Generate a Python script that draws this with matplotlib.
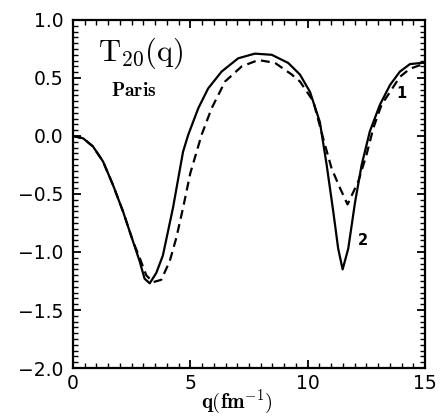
import matplotlib
matplotlib.use('Agg')
import matplotlib.pyplot as plt
from matplotlib.ticker import MultipleLocator

plt.rcParams['mathtext.fontset'] = 'cm'
plt.rcParams['font.family'] = ['DejaVu Sans']

# curve 2 (solid)
q_solid = [0.0, 0.43, 0.85, 1.28, 1.70, 2.13, 2.56, 2.84, 3.05, 3.27, 3.55, 3.83,
           4.26, 4.69, 4.91, 5.34, 5.76, 6.33, 7.04, 7.75, 8.47, 9.17, 9.67, 10.10,
           10.52, 10.81, 11.09, 11.30, 11.49, 11.73, 12.02, 12.30, 12.65, 13.08,
           13.51, 13.93, 14.36, 14.86, 15.0]
t_solid = [0.0, -0.02, -0.09, -0.22, -0.42, -0.65, -0.91, -1.08, -1.23, -1.27, -1.18, -1.03,
           -0.62, -0.135, 0.01, 0.24, 0.41, 0.555, 0.67, 0.71, 0.70, 0.63, 0.53, 0.38,
           0.12, -0.25, -0.65, -0.97, -1.15, -0.97, -0.57, -0.25, 0.04, 0.27,
           0.44, 0.555, 0.62, 0.63, 0.63]

# curve 1 (dashed)
q_dash = [0.0, 0.43, 0.85, 1.28, 1.70, 2.13, 2.56, 2.84, 3.12, 3.41, 3.76, 4.12,
          4.40, 4.69, 5.0, 5.48, 5.91, 6.48, 7.19, 7.90, 8.61, 9.32, 9.67, 10.24,
          10.66, 11.02, 11.38, 11.70, 12.16, 12.51, 12.80, 13.15, 13.51, 13.93,
          14.36, 14.78, 15.0]
t_dash = [0.0, -0.02, -0.09, -0.22, -0.42, -0.65, -0.91, -1.05, -1.20, -1.26, -1.24, -1.08,
          -0.88, -0.62, -0.32, 0.01, 0.24, 0.47, 0.60, 0.655, 0.63, 0.53, 0.47, 0.30,
          -0.02, -0.28, -0.45, -0.59, -0.39, -0.16, 0.07, 0.27, 0.38, 0.51,
          0.58, 0.61, 0.62]

fig = plt.figure(figsize=(4.4, 4.17), dpi=100)
ax = fig.add_axes([73/440, 1-368/417, 352/440, 348/417])

ax.plot(q_solid, t_solid, color='black', lw=1.6)
ax.plot(q_dash, t_dash, color='black', lw=1.6, ls=(0, (4, 2.5)))

ax.set_xlim(0, 15)
ax.set_ylim(-2.0, 1.0)
ax.xaxis.set_major_locator(MultipleLocator(5))
ax.xaxis.set_minor_locator(MultipleLocator(0.5))
ax.yaxis.set_minor_locator(MultipleLocator(0.05))
ax.set_yticks([-2.0, -1.5, -1.0, -0.5, 0.0, 0.5, 1.0])
ax.set_yticklabels(['\u22122.0', '\u22121.5', '\u22121.0', '\u22120.5', '0.0', '0.5', '1.0'])
ax.tick_params(which='both', direction='in', top=True, right=True, labelsize=13.5)
ax.tick_params(which='major', length=6, width=1.3)
ax.tick_params(which='minor', length=3.5, width=1.0)
ax.tick_params(axis='y', pad=7)
ax.tick_params(axis='x', pad=4)
for s in ax.spines.values():
    s.set_linewidth(1.6)

ax.text(1.05, 0.71, r'$\mathrm{T_{20}(q)}$', fontsize=22, va='center', ha='left')
ax.text(1.62, 0.39, r'$\mathbf{Paris}$', fontsize=14, va='center', ha='left')
ax.text(14.0, 0.37, '1', fontsize=10.5, fontweight='bold', ha='center', va='center')
ax.text(12.36, -0.90, '2', fontsize=10.5, fontweight='bold', ha='center', va='center')

fig.text(237/440, 1/417, r'$\mathbf{q(fm^{-1})}$', fontsize=15, ha='center', va='bottom')

fig.savefig('out.png', dpi=100)
